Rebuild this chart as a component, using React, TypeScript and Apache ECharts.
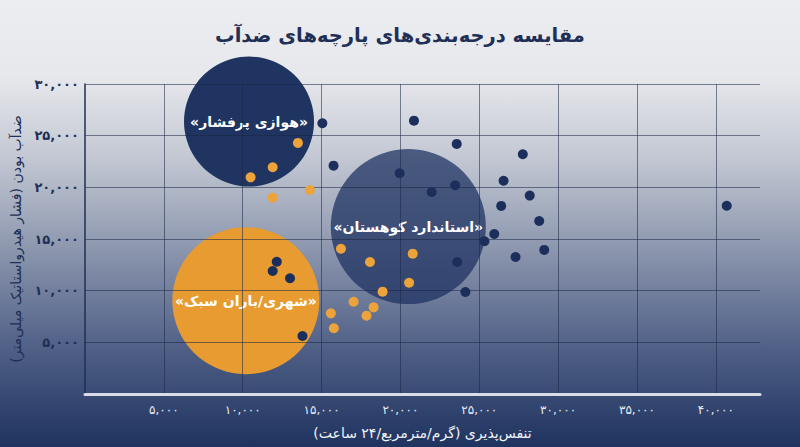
import { useEffect, useRef } from 'react';
import * as echarts from 'echarts';

// categories / data
const title = 'مقایسه درجه‌بندی‌های پارچه‌های ضدآب';
const xAxisName = 'تنفس‌پذیری (گرم/مترمربع/۲۴ ساعت)';
const yAxisName = 'ضدآب بودن (فشار هیدرواستاتیک میلی‌متر)';

const clusterNames = ['«هوازی پرفشار»', '«استاندارد کوهستان»', '«شهری/باران سبک»'];
const clusterX = [10400, 20500, 10200];
const clusterY = [26370, 16200, 9030];

const navyX = [15050, 15760, 20860, 23570, 27760, 19950, 26540, 23470, 21980, 28200, 26390, 28800, 25950, 25330, 29120, 27300, 23600, 24120, 40690, 12160, 11900, 13000, 13790];
const navyY = [26200, 22100, 26450, 24200, 23200, 21360, 20640, 20200, 19550, 19200, 18200, 16740, 15480, 14780, 13940, 13260, 12770, 9870, 18220, 12800, 11900, 11200, 5610];

const orangeX = [13500, 11900, 10500, 14260, 11900, 16230, 20780, 18070, 20550, 18870, 17030, 18300, 17850, 15590, 15780];
const orangeY = [24300, 21940, 20970, 19740, 19000, 14060, 13580, 12770, 10770, 9900, 8930, 8390, 7580, 7810, 6360];

const X_MAX = 42800;
const Y_MAX = 30000;
const TICK = 5000;

// visual settings
const clusterSizes = [130, 155, 147];
const clusterColors = ['#1f3461', 'rgba(30,50,97,0.74)', '#e79b30'];
const NAVY = '#1c2f5c';
const ORANGE = '#eca43a';
const FONT = "'DejaVu Sans', sans-serif";

const faDigits = '۰۱۲۳۴۵۶۷۸۹';
const toFa = (n: number) =>
  n.toLocaleString('en-US').replace(/\d/g, (d) => faDigits[Number(d)]);

export default function App() {
  const ref = useRef<HTMLDivElement>(null);

  useEffect(() => {
    document.body.style.margin = '0';
    if (!ref.current) return;
    const chart = echarts.init(ref.current, null, { renderer: 'svg' });

    const gridLine = { show: true, lineStyle: { color: 'rgba(25,38,70,0.55)', width: 1 } };

    chart.setOption({
      animation: false,
      backgroundColor: 'transparent',
      textStyle: { fontFamily: FONT },
      title: {
        text: title,
        left: 'center',
        top: 20,
        textStyle: { fontFamily: FONT, fontSize: 19.5, fontWeight: 'bold', color: '#1f2f55' },
      },
      grid: { left: 85, right: 40, top: 84, bottom: 53 },
      xAxis: {
        type: 'value',
        min: 0,
        max: X_MAX,
        interval: TICK,
        name: xAxisName,
        nameLocation: 'middle',
        nameGap: 32,
        nameTextStyle: { color: '#f1f3f8', fontSize: 14, fontFamily: FONT },
        axisLine: { show: true, lineStyle: { color: '#d9dde8', width: 3 } },
        axisTick: { show: false },
        axisLabel: {
          color: '#e6eaf2',
          fontSize: 12,
          margin: 10,
          showMinLabel: false,
          showMaxLabel: false,
          formatter: (v: number) => toFa(v),
        },
        splitLine: { ...gridLine, showMinLine: false, showMaxLine: false },
      },
      yAxis: {
        type: 'value',
        min: 0,
        max: Y_MAX,
        interval: TICK,
        name: yAxisName,
        nameLocation: 'middle',
        nameGap: 60,
        nameRotate: 90,
        nameTextStyle: { color: '#1f2f55', fontSize: 14, fontFamily: FONT },
        axisLine: { show: true, lineStyle: { color: '#1f2f55', width: 1.5 } },
        axisTick: { show: false },
        axisLabel: {
          color: '#1f2f55',
          fontSize: 13,
          fontWeight: 'bold',
          margin: 6,
          showMinLabel: false,
          formatter: (v: number) => toFa(v),
        },
        splitLine: { ...gridLine, showMinLine: false },
      },
      series: [
        {
          name: 'clusters',
          type: 'scatter',
          z: -1,
          silent: true,
          data: clusterNames.map((n, i) => ({
            name: n,
            value: [clusterX[i], clusterY[i]],
            symbolSize: clusterSizes[i],
            itemStyle: { color: clusterColors[i], opacity: 1 },
          })),
          label: {
            show: true,
            position: 'inside',
            formatter: (p: any) => p.name,
            color: '#ffffff',
            fontSize: 14,
            fontWeight: 'bold',
            fontFamily: FONT,
          },
        },
        {
          name: 'navy',
          type: 'scatter',
          z: 5,
          symbolSize: 10,
          itemStyle: { color: NAVY, opacity: 1 },
          data: navyX.map((x, i) => [x, navyY[i]]),
        },
        {
          name: 'orange',
          type: 'scatter',
          z: 5,
          symbolSize: 10,
          itemStyle: { color: ORANGE, opacity: 1 },
          data: orangeX.map((x, i) => [x, orangeY[i]]),
        },
      ],
    });

    return () => chart.dispose();
  }, []);

  return (
    <div
      style={{
        width: 800,
        height: 447,
        background:
          'linear-gradient(to bottom, #ecedf0 0%, #e7e8ec 17%, #c3c8d3 35%, #8e98af 55%, #4f5f86 78%, #1f335f 100%)',
      }}
    >
      <div ref={ref} style={{ width: 800, height: 447 }} />
    </div>
  );
}
